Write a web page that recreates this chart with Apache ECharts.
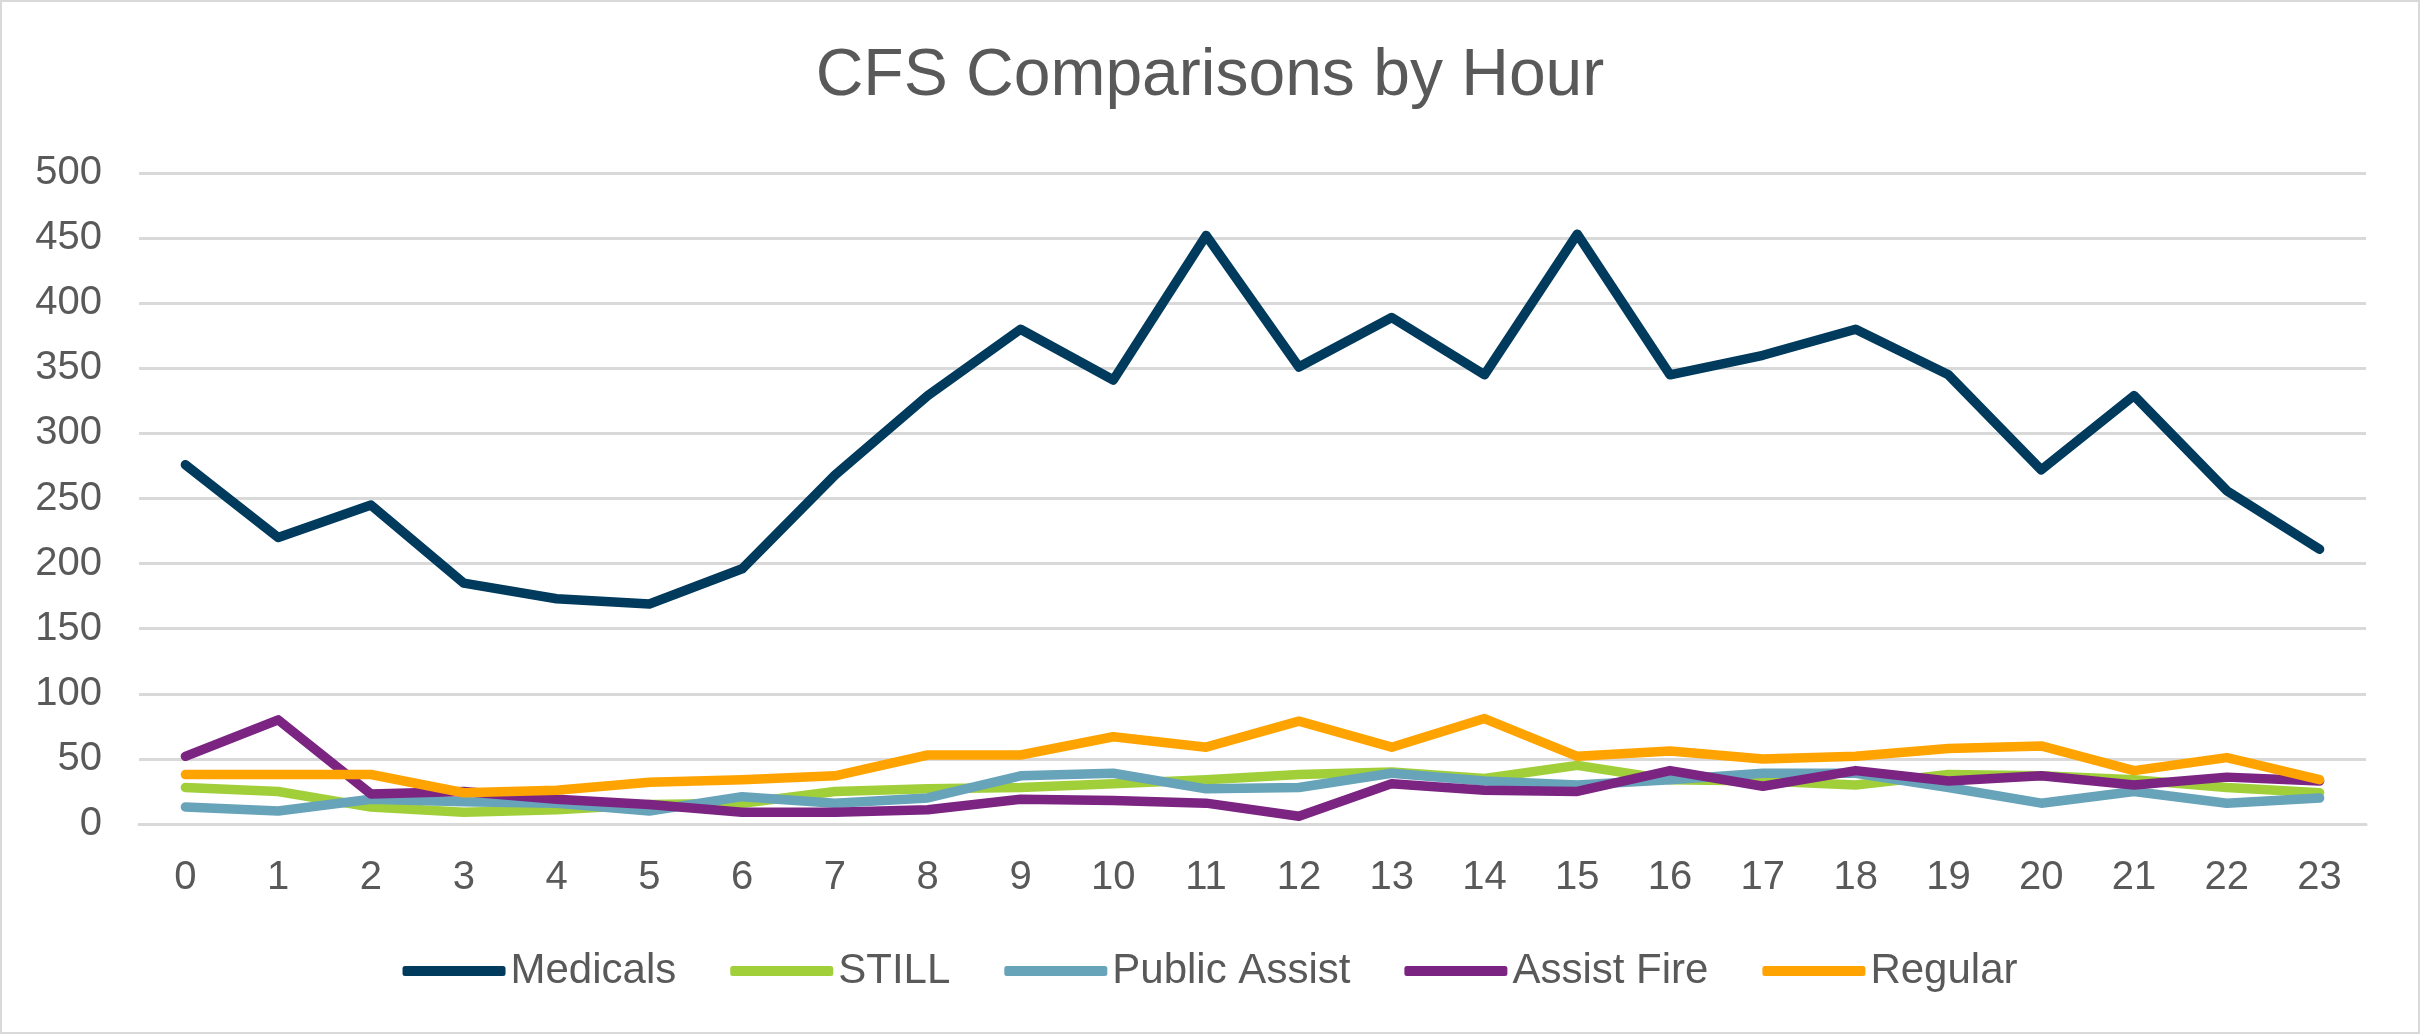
<!DOCTYPE html>
<html lang="en">
<head>
    <meta charset="UTF-8">
    <title>CFS Comparisons by Hour</title>
    <script src="https://cdn.jsdelivr.net/npm/echarts@6/dist/echarts.min.js"></script>
    <style>
        html, body { margin: 0; padding: 0; background: #fff; }
        #container {
            width: 2420px;
            height: 1034px;
            box-sizing: border-box;
            border: 2px solid #d9d9d9;
        }
    </style>
</head>
<body>
<div id="container"></div>
<script type="text/javascript">

    var hours = ['0','1','2','3','4','5','6','7','8','9','10','11','12','13','14','15','16','17','18','19','20','21','22','23'];

    var medicals     = [276, 220, 245, 185, 173, 169, 196, 268, 329, 380, 341, 452, 351, 389, 345, 453, 345, 360, 380, 345, 272, 329, 256, 211];
    var still        = [28, 25, 13, 9, 11, 15, 16, 25, 27, 28, 31, 34, 38, 40, 35, 45, 34, 33, 30, 38, 37, 34, 28, 24];
    var publicAssist = [13, 10, 19, 17, 16, 10, 21, 16, 20, 37, 39, 27, 28, 39, 33, 30, 34, 39, 39, 28, 16, 25, 16, 20];
    var assistFire   = [52, 80, 23, 25, 19, 15, 9, 9, 11, 19, 18, 16, 6, 31, 26, 25, 41, 29, 41, 33, 37, 30, 36, 33];
    var regular      = [38, 38, 38, 24, 26, 32, 34, 37, 53, 53, 67, 59, 79, 59, 81, 52, 56, 50, 52, 58, 60, 41, 51, 34];

    var names  = ['Medicals', 'STILL', 'Public Assist', 'Assist Fire', 'Regular'];
    var colors = ['#003a5d', '#a1cf3a', '#67a3b9', '#7b2482', '#ffa300'];
    var values = [medicals, still, publicAssist, assistFire, regular];

    var font = '"Liberation Sans", Arial, sans-serif';
    var textColor = '#595959';

    var series = names.map(function (name, i) {
        return {
            name: name,
            type: 'line',
            data: values[i],
            showSymbol: false,
            symbol: 'none',
            smooth: false,
            color: colors[i],
            lineStyle: { width: 9.5, color: colors[i], cap: 'round', join: 'round' },
            z: 2 + i
        };
    });

    var myChart = echarts.init(document.getElementById('container'));
    myChart.setOption({
        animation: false,
        color: colors,
        title: {
            text: 'CFS Comparisons by Hour',
            left: 'center',
            top: 37,
            textStyle: { fontFamily: font, fontSize: 66, fontWeight: 'normal', color: textColor }
        },
        legend: {
            data: names,
            bottom: 35,
            left: 'center',
            icon: 'roundRect',
            itemWidth: 103,
            itemHeight: 10,
            itemGap: 54,
            textStyle: { fontFamily: font, fontSize: 42, color: textColor, padding: [0, 0, 0, 0] }
        },
        grid: { left: 137, right: 52, top: 171, bottom: 208, containLabel: false },
        xAxis: {
            type: 'category',
            data: hours,
            boundaryGap: true,
            axisLine: { show: true, lineStyle: { color: '#d9d9d9', width: 3 } },
            axisTick: { show: false },
            axisLabel: { fontFamily: font, fontSize: 40, color: textColor, margin: 34 }
        },
        yAxis: {
            type: 'value',
            min: 0,
            max: 500,
            interval: 50,
            axisLine: { show: false },
            axisTick: { show: false },
            axisLabel: { fontFamily: font, fontSize: 40, color: textColor, margin: 37 },
            splitLine: { lineStyle: { color: '#d9d9d9', width: 3 } }
        },
        series: series
    });
</script>
</body>
</html>
